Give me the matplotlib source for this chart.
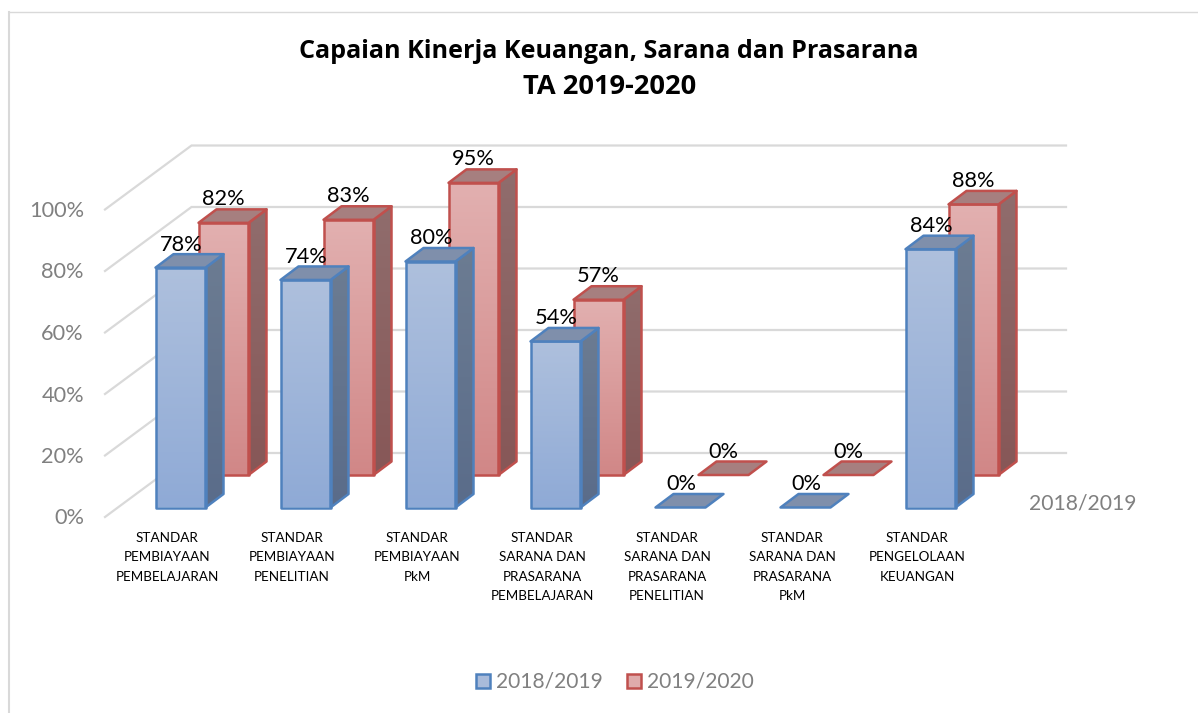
import numpy as np
import matplotlib
matplotlib.use("Agg")
import matplotlib.pyplot as plt
from matplotlib.patches import Polygon, Rectangle
from matplotlib.lines import Line2D

title_line1 = "Capaian Kinerja Keuangan, Sarana dan Prasarana"
title_line2 = "TA 2019-2020"
categories = ["STANDAR\nPEMBIAYAAN\nPEMBELAJARAN", "STANDAR\nPEMBIAYAAN\nPENELITIAN",
              "STANDAR\nPEMBIAYAAN\nPkM", "STANDAR\nSARANA DAN\nPRASARANA\nPEMBELAJARAN",
              "STANDAR\nSARANA DAN\nPRASARANA\nPENELITIAN", "STANDAR\nSARANA DAN\nPRASARANA\nPkM",
              "STANDAR\nPENGELOLAAN\nKEUANGAN"]
series_names = ["2018/2019", "2019/2020"]
values_2018 = [78, 74, 80, 54, 0, 0, 84]
values_2019 = [82, 83, 95, 57, 0, 0, 88]
y_ticks = [0, 20, 40, 60, 80, 100]

W, H = 1198, 713
PX_PER_CAT, PX_PER_PCT = 125.0, 3.075
FLOOR_PX, FIRST_LEFT_PX = 517.0, 156.0
FONT = "Lato"

fig = plt.figure(figsize=(W / 100, H / 100), dpi=100)
ax = fig.add_axes([0, 0, 1, 1])
ax.set_xlim(-FIRST_LEFT_PX / PX_PER_CAT, (W - FIRST_LEFT_PX) / PX_PER_CAT)
ax.set_ylim((FLOOR_PX - H) / PX_PER_PCT, FLOOR_PX / PX_PER_PCT)
ax.axis("off")


def pt(i, v, dx=0.0, dy=0.0):
    """Category index + value, with offset in pixels (dy positive = up)."""
    return (i + dx / PX_PER_CAT, v + dy / PX_PER_PCT)


# chart frame: left and top edges only
frame = "#D9D9D9"
ax.add_line(Line2D([8.5 / W, 8.5 / W], [0, 1 - 12 / H], transform=ax.transAxes, color=frame, lw=1.5, zorder=1))
ax.add_line(Line2D([8.5 / W, 1.0], [1 - 12 / H, 1 - 12 / H], transform=ax.transAxes, color=frame, lw=1.0, zorder=1))

# gridlines: side wall + back wall
GRID_DX0, GRID_DX1, GRID_DY, GRID_END = -51.0, 35.5, 64.0, 1066 - 156
for t in y_ticks:
    x0, y0 = pt(0, t, GRID_DX0, 0)
    x1, y1 = pt(0, t, GRID_DX1, GRID_DY)
    x2, y2 = pt(0, t, GRID_END, GRID_DY)
    ax.plot([x0, x1, x2], [y0, y1, y2], color="#D9D9D9", lw=1.6, zorder=2, solid_joinstyle="miter")
    ax.text(*pt(0, t, -72, -1.5), f"{t}%", ha="right", va="center", family=FONT, fontsize=15.7,
            color="#808080", zorder=3)

BAR_W, DEPTH_X, DEPTH_Y = 50.0, 18.0, 13.5


def bar3d(i, v, dx, dy, c_top, c_bot, c_face, c_s_top, c_s_bot, edge, z):
    front = [pt(i, 0, dx, dy), pt(i, 0, dx + BAR_W, dy), pt(i, v, dx + BAR_W, dy), pt(i, v, dx, dy)]
    top = [pt(i, v, dx, dy), pt(i, v, dx + BAR_W, dy),
           pt(i, v, dx + BAR_W + DEPTH_X, dy + DEPTH_Y), pt(i, v, dx + DEPTH_X, dy + DEPTH_Y)]
    side = [pt(i, 0, dx + BAR_W, dy), pt(i, 0, dx + BAR_W + DEPTH_X, dy + DEPTH_Y),
            pt(i, v, dx + BAR_W + DEPTH_X, dy + DEPTH_Y), pt(i, v, dx + BAR_W, dy)]
    cmap_f = matplotlib.colors.LinearSegmentedColormap.from_list("f", [c_bot, c_top])
    cmap_s = matplotlib.colors.LinearSegmentedColormap.from_list("s", [c_s_bot, c_s_top])
    grad = np.linspace(0, 1, 128).reshape(-1, 1)
    if v > 0:
        for poly, cm in ((side, cmap_s), (front, cmap_f)):
            xs, ys = zip(*poly)
            im = ax.imshow(grad, origin="lower", cmap=cm, aspect="auto", vmin=0, vmax=1, zorder=z,
                           extent=(min(xs), max(xs), min(ys), max(ys)), interpolation="bilinear")
            clip = Polygon(poly, closed=True, transform=ax.transData, fc="none", ec="none")
            ax.add_patch(clip)
            im.set_clip_path(clip)
            ax.add_patch(Polygon(poly, closed=True, fc="none", ec=edge, lw=1.8, zorder=z + 0.1,
                                 joinstyle="round"))
    ax.add_patch(Polygon(top, closed=True, fc=c_face, ec=edge, lw=1.8, zorder=z + 0.1, joinstyle="round"))


BLUE = dict(c_top="#AEC0DD", c_bot="#8FAAD6", c_face="#7F8FAB", c_s_top="#6C7C92", c_s_bot="#5A6C8A", edge="#4F81BD")
RED = dict(c_top="#E2B0B0", c_bot="#D18787", c_face="#A67F7F", c_s_top="#906D6D", c_s_bot="#875757", edge="#C0504D")
RED_DX, RED_DY, BLUE_DY = 42.5, 42.0, 9.5

for i in range(len(categories)):
    bar3d(i, values_2019[i], RED_DX, RED_DY, z=10 + i * 2, **RED)
    bar3d(i, values_2018[i], -0.5, BLUE_DY, z=11 + i * 2, **BLUE)

for i in range(len(categories)):
    ax.text(*pt(i, values_2018[i], 25, BLUE_DY + 23), f"{values_2018[i]}%", ha="center", va="center",
            family=FONT, fontsize=15.7, color="black", zorder=40)
    ax.text(*pt(i, values_2019[i], RED_DX + 25, RED_DY + 23.5), f"{values_2019[i]}%", ha="center", va="center",
            family=FONT, fontsize=15.7, color="black", zorder=40)
    ax.text(*pt(i, 0, 11, -15), categories[i], ha="center", va="top", family=FONT, fontsize=9.7,
            color="black", linespacing=1.74, zorder=40)

# series axis label
ax.text(*pt(0, 0, 873.5, 13), series_names[0], ha="left", va="center", family=FONT, fontsize=15.2, color="#808080")

# title
ax.text(609 / W, 1 - 52 / H, title_line1, transform=ax.transAxes, ha="center", va="center", family="Open Sans",
        fontweight="bold", fontsize=18.1, color="black")
ax.text(610 / W, 1 - 87 / H, title_line2, transform=ax.transAxes, ha="center", va="center", family="Open Sans",
        fontweight="bold", fontsize=19.6, color="black")

# legend
for name, box, tx, fc, ec in ((series_names[0], 476, 496, "#A9BBDA", "#4F81BD"),
                              (series_names[1], 627, 647, "#DFABAB", "#C0504D")):
    ax.add_patch(Rectangle((box / W, 1 - 688 / H), 14 / W, 14 / H, transform=ax.transAxes, fc=fc, ec=ec, lw=1.8, zorder=5))
    ax.text(tx / W, 1 - 682 / H, name, transform=ax.transAxes, ha="left", va="center", family=FONT,
            fontsize=15.1, color="#808080")

fig.savefig("out.png", dpi=100, facecolor="white")
